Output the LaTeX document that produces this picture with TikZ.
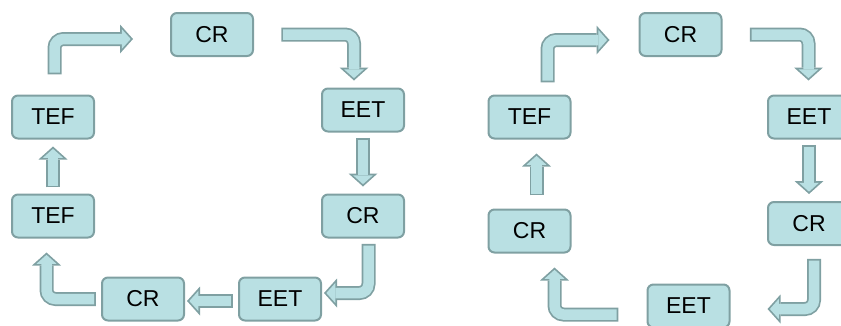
\documentclass[tikz,border=0pt]{standalone}
\usepackage{fontspec}
\setmainfont{Liberation Sans}
\usetikzlibrary{arrows.meta}
\definecolor{boxfill}{RGB}{185,224,227}
\definecolor{boxline}{RGB}{127,160,162}

\begin{document}
\begin{tikzpicture}[x=1pt, y=-1pt,
    stage/.style={draw=boxline, fill=boxfill, line width=2pt, rounded corners=6pt,
        minimum width=82pt, minimum height=43pt, font=\fontsize{23}{27}\selectfont},
    blk/.style={boxfill, line width=10.5pt, rounded corners=9pt,
        -{Triangle[width=19.9pt,length=8.9pt,line width=0pt]}, shorten >=2.35pt,
        preaction={draw=boxline, line width=14pt,
            -{Triangle[width=29pt,length=13pt,line width=0pt]},
            shorten >=0pt, shorten <=-1.75pt}}]
    \clip (0,0) rectangle (841,325);
    % left cycle
    \node[stage] (cra) at (212,34.5) {CR};
    \node[stage] (eeta) at (363,110) {EET};
    \node[stage] (crb) at (363,216) {CR};
    \node[stage] (eetb) at (280,299) {EET};
    \node[stage] (crc) at (143,299) {CR};
    \node[stage] (tefa) at (53,216) {TEF};
    \node[stage] (tefb) at (53,117) {TEF};
    \draw[blk] ([xshift=1.5pt,yshift=22pt]tefb.north) |- ([xshift=-37pt,yshift=-4.5pt]cra.west);
    \draw[blk] ([xshift=29pt]cra.east) -| ([xshift=-9pt,yshift=7pt]eeta.north);
    \draw[blk] ([yshift=-7pt]eeta.south) -- ([yshift=7pt]crb.north);
    \draw[blk] ([xshift=5.5pt,yshift=-7pt]crb.south) |- ([xshift=2pt,yshift=6pt]eetb.east);
    \draw[blk] ([xshift=-7pt,yshift=-2pt]eetb.west) -- ([xshift=2pt,yshift=-2pt]crc.east);
    \draw[blk] ([xshift=-7pt]crc.west) -| ([xshift=-6.5pt,yshift=-14pt]tefa.south);
    \draw[blk] ([yshift=8pt]tefa.north) -- ([yshift=-7pt]tefb.south);
    % right cycle
    \node[stage] (crd) at (680.5,34.5) {CR};
    \node[stage] (eetc) at (809,117) {EET};
    \node[stage] (crf) at (809,223.5) {CR};
    \node[stage] (eetd) at (688.5,306) {EET};
    \node[stage] (cre) at (529.5,231) {CR};
    \node[stage] (tefc) at (529.5,117) {TEF};
    \draw[blk] ([xshift=18pt,yshift=14pt]tefc.north) |- ([xshift=-29pt,yshift=-5.5pt]crd.west);
    \draw[blk] ([xshift=29pt]crd.east) -| ([xshift=-0.5pt,yshift=14pt]eetc.north);
    \draw[blk] ([yshift=-7pt]eetc.south) -- ([yshift=7pt]crf.north);
    \draw[blk] ([xshift=5pt,yshift=-14.5pt]crf.south) |- ([xshift=37pt,yshift=-3pt]eetd.east);
    \draw[blk] ([xshift=-30pt,yshift=-8.5pt]eetd.west) -| ([xshift=25pt,yshift=-14pt]cre.south);
    \draw[blk] ([xshift=7pt,yshift=15pt]cre.north) -- ([xshift=7pt,yshift=-14pt]tefc.south);
\end{tikzpicture}
\end{document}
